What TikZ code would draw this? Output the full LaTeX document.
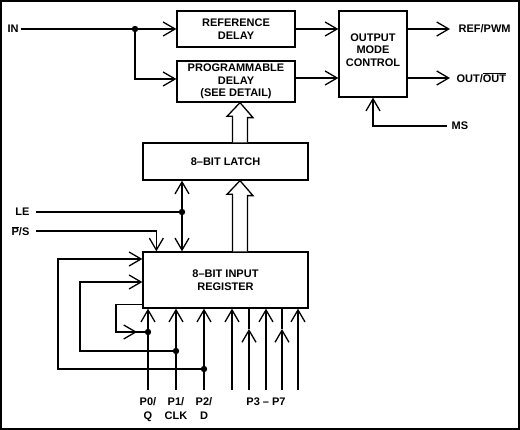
\documentclass[tikz,border=0pt]{standalone}
\usepackage{fontspec}
\setmainfont{Liberation Sans}
\usetikzlibrary{arrows.meta}
\newcommand{\ovl}[1]{$\overline{\mbox{#1}}$}

\begin{document}
\begin{tikzpicture}[x=1pt,y=-1pt,line width=1.3pt,
		>={Straight Barb[length=12pt,width=14pt]},
		blk/.style={draw,inner sep=0pt,align=center,font=\fontsize{11}{12.5}\selectfont\bfseries},
		lbl/.style={inner sep=0pt,align=center,font=\fontsize{11}{14}\selectfont\bfseries},
		fat/.style={draw,fill=white}]
		\useasboundingbox (0,0) rectangle (520,430);
		\draw[line width=2pt] (1,1) rectangle (519,429);

		% blocks
		\node[blk,minimum width=118pt,minimum height=36pt] (refdelay) at (236,29) {REFERENCE\\DELAY};
		\node[blk,minimum width=118pt,minimum height=41pt] (progdelay) at (236,81.5) {PROGRAMMABLE\\DELAY\\(SEE DETAIL)};
		\node[blk,minimum width=68pt,minimum height=86pt,text depth=8pt] (omc) at (373,54) {OUTPUT\\MODE\\CONTROL};
		\node[blk,minimum width=165pt,minimum height=37pt] (latch) at (225.5,161.5) {8--BIT LATCH};
		\node[blk,minimum width=165pt,minimum height=56pt] (inreg) at (225.5,280) {8--BIT INPUT\\REGISTER};

		% signal names
		\node[lbl,anchor=west] (in) at (7,29) {IN};
		\node[lbl,anchor=west] (refpwm) at (458,29) {REF/PWM};
		\node[lbl,anchor=west] (outq) at (456,78) {OUT/\ovl{OUT}};
		\node[lbl,anchor=west] (ms) at (451,126) {MS};
		\node[lbl,anchor=east] (le) at (30,212) {LE};
		\node[lbl,anchor=east] (ps) at (30,231) {\ovl{P}/S};
		\node[lbl,anchor=north] (pzero) at (148,397) {P0/\\Q};
		\node[lbl,anchor=north] (pone) at (176,397) {P1/\\CLK};
		\node[lbl,anchor=north] (ptwo) at (204,397) {P2/\\D};
		\node[lbl,anchor=north] (pthree) at (266,397) {P3 -- P7};

		\coordinate (injoin) at (135,29);
		\coordinate (lejoin) at (182,212);
		\coordinate (qdot) at (148,332);
		\coordinate (clkdot) at (176,351);
		\coordinate (ddot) at (204,369);

		% delay path
		\draw[shorten <=2pt] (in) -- (injoin);
		\draw[->] (injoin) -- (refdelay);
		\draw[->] (injoin) |- ([yshift=2.5pt]progdelay.west);
		\draw[->] (refdelay) -- (refdelay -| omc.west);
		\draw[->] ([yshift=3.5pt]progdelay.east) coordinate (pdout) -- (pdout -| omc.west);
		\draw[->,shorten >=8pt] (omc.east |- refpwm) -- (refpwm);
		\draw[->,shorten >=6pt] (omc.east |- outq) -- (outq);
		\draw[->,shorten <=4pt] (ms) -| (omc.south);

		% fat arrows
		\draw[fat] ([xshift=7pt]latch.north) -- ++(0,-26) -- ++(-5.5,0) -- ([xshift=4pt]progdelay.south)
			-- ++(13,15) -- ++(-5.5,0) -- ([xshift=22pt]latch.north);
		\draw[fat] ([xshift=7pt]inreg.north) -- ++(0,-57) -- ++(-5.5,0) -- ([xshift=14.5pt]latch.south)
			-- ++(13,15) -- ++(-5.5,0) -- ([xshift=22pt]inreg.north);

		% latch / register control
		\draw[shorten <=6pt] (le) -- (lejoin);
		\draw[<->] (latch.south -| lejoin) -- (inreg.north -| lejoin);
		\draw[->,shorten <=6pt] (ps) -| ([xshift=14pt]inreg.north west);

		% pins
		\foreach \x in {148,176,204,232,266,298}
			\draw[->] (\x,390) -- (inreg.south -| \x,0);
		\foreach \x in {249,282}{
			\draw[->] (\x,390) -- (\x,329);
			\draw (\x,329) -- (inreg.south -| \x,0);
		}

		% feedback
		\draw ([yshift=4pt]inreg.south west) -| (116,332) -- (qdot);
		\draw[->] (116,332) -- (137,332);
		\draw[->] (clkdot) -| (80,282) -- (inreg.west |- 0,282);
		\draw[->] (ddot) -| (58,259) -- (inreg.west |- 0,259);

		\foreach \p in {injoin,lejoin,qdot,clkdot,ddot}
			\fill (\p) circle (3.2pt);
	\end{tikzpicture}
\end{document}
